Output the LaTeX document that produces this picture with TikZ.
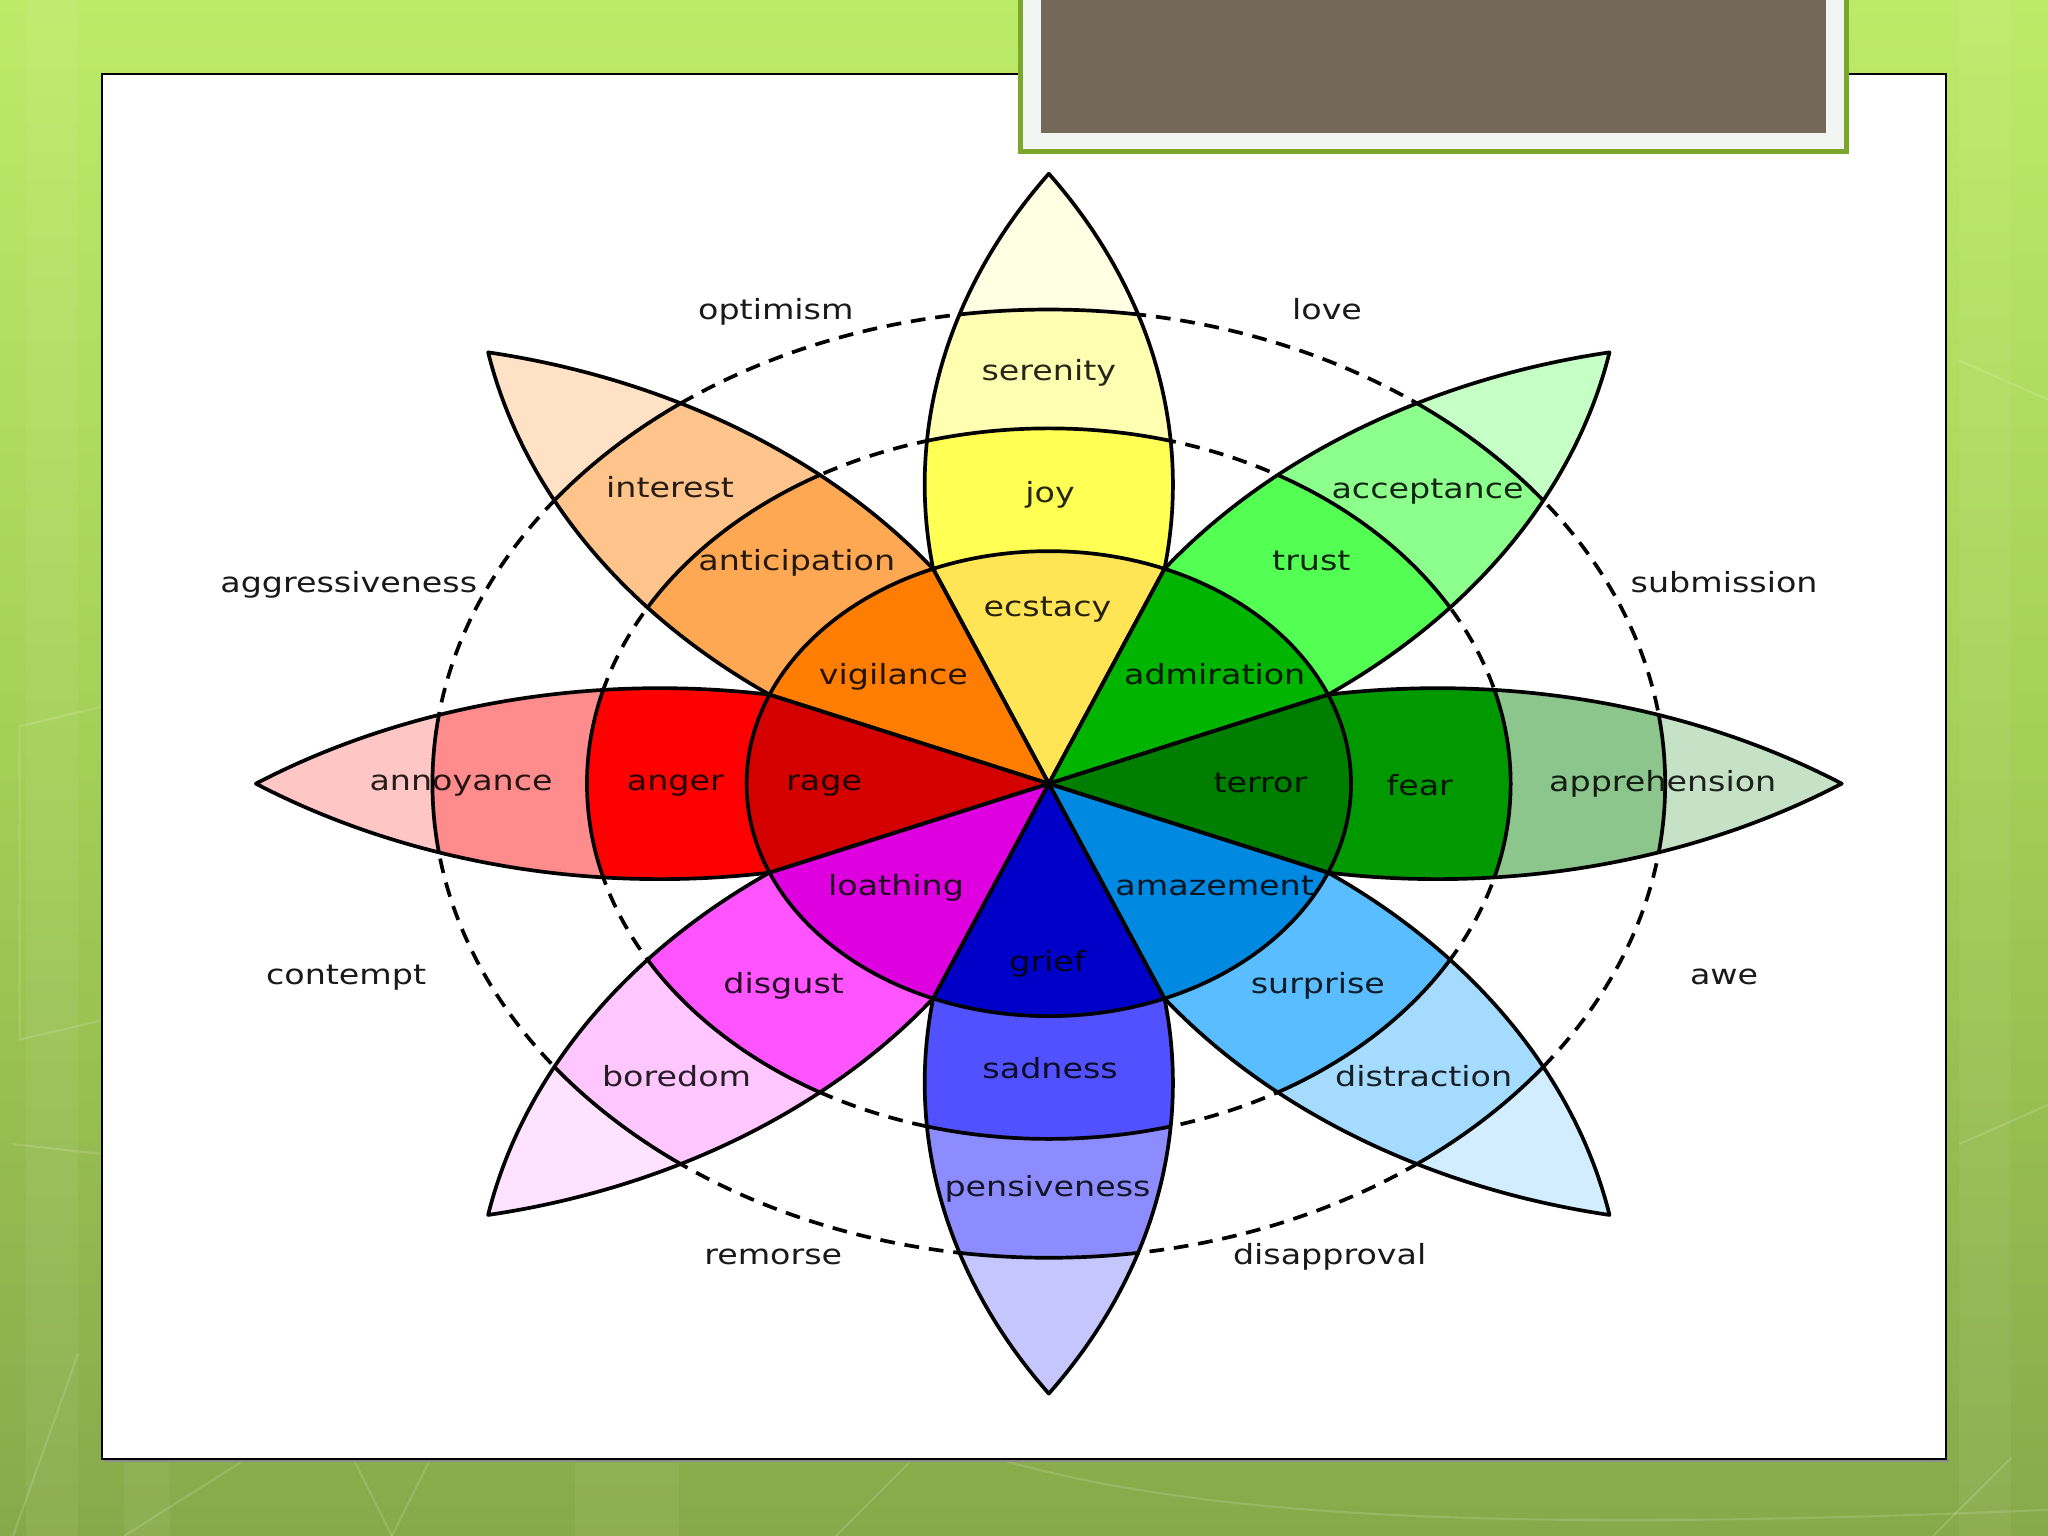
\documentclass[tikz,border=0pt]{standalone}
\usepackage{fontspec}
\newfontfamily\lblfont{DejaVu Sans}[FakeStretch=1.2]
\definecolor{bgtop}{HTML}{BCEB68}
\definecolor{bgmid}{HTML}{A2CF56}
\definecolor{bgbot}{HTML}{88A94A}
\definecolor{boxgreen}{HTML}{7BA82A}
\definecolor{boxin}{HTML}{F3F5F3}
\definecolor{taupe}{HTML}{736859}
% joy family
\definecolor{ecst}{HTML}{FFE455}
\definecolor{joyc}{HTML}{FFFF54}
\definecolor{sere}{HTML}{FFFFB1}
\definecolor{joyt}{HTML}{FFFFE3}
% trust family
\definecolor{admi}{HTML}{00B400}
\definecolor{trus}{HTML}{54FF54}
\definecolor{acce}{HTML}{8CFF8C}
\definecolor{trut}{HTML}{C6FFC6}
% fear family
\definecolor{terr}{HTML}{007E00}
\definecolor{fear}{HTML}{009900}
\definecolor{appr}{HTML}{8CC68C}
\definecolor{feat}{HTML}{C6E2C6}
% surprise family
\definecolor{amaz}{HTML}{0089E0}
\definecolor{surp}{HTML}{59BDFF}
\definecolor{dist}{HTML}{A5DBFF}
\definecolor{surt}{HTML}{D2EDFF}
% sadness family
\definecolor{grie}{HTML}{0000C8}
\definecolor{sadn}{HTML}{5151FF}
\definecolor{pens}{HTML}{8C8CFF}
\definecolor{sadt}{HTML}{C6C6FF}
% disgust family
\definecolor{loat}{HTML}{DE00DE}
\definecolor{disg}{HTML}{FF54FF}
\definecolor{bore}{HTML}{FFC6FF}
\definecolor{disx}{HTML}{FFE2FF}
% anger family
\definecolor{rage}{HTML}{D40000}
\definecolor{ange}{HTML}{FF0000}
\definecolor{anno}{HTML}{FF8C8C}
\definecolor{angt}{HTML}{FFC6C6}
% anticipation family
\definecolor{vigi}{HTML}{FF7D00}
\definecolor{anti}{HTML}{FFA854}
\definecolor{inte}{HTML}{FFC48C}
\definecolor{antt}{HTML}{FFE2C6}
\begin{document}
\begin{tikzpicture}[x=0.013061cm,y=0.013061cm,
  lab/.style={font=\lblfont\fontsize{7.9}{9}\selectfont, anchor=base, inner sep=0pt, text=black!90},
  plab/.style={lab, text=black, text opacity=0.85},
  edge/.style={draw=black, line width=1.05pt, line join=round},
  dashring/.style={draw=black, line width=1.05pt, dash pattern=on 4.2pt off 2.8pt},
  deco/.style={draw=white, draw opacity=0.14, line width=0.6pt}]
\useasboundingbox (0,0) rectangle (1568,1176);
% background
\shade[top color=bgtop, bottom color=bgbot, middle color=bgmid] (0,0) rectangle (1568,1176);
\fill[white, opacity=0.06] (20,0) rectangle (60,1176);
\fill[white, opacity=0.06] (95,0) rectangle (130,60);
\fill[white, opacity=0.06] (440,0) rectangle (520,60);
\fill[white, opacity=0.05] (1500,0) rectangle (1540,1176);
\draw[deco] (10,0) -- (60,140);
\draw[deco] (95,0) -- (190,60);
\draw[deco] (300,0) -- (270,60);
\draw[deco] (300,0) -- (330,60);
\draw[deco] (640,0) -- (700,60);
\draw[deco] (760,60) .. controls (900,20) and (1100,0) .. (1568,20);
\draw[deco] (1480,0) -- (1540,60);
\draw[deco] (15,620) -- (100,640) -- (100,400) -- (15,380) -- cycle;
\draw[deco] (10,300) -- (100,290);
\draw[deco] (1500,900) -- (1568,870);
\draw[deco] (1500,300) -- (1568,330);
% white panel
\fill[black!45] (80,56.5) rectangle (1492,59);
\draw[fill=white, line width=0.6pt] (78,59) rectangle (1490,1119);
% top box
\fill[boxin] (781.5,1060) rectangle (1413.5,1176);
\draw[boxgreen, line width=1.5pt] (781.5,1176) -- (781.5,1060) -- (1413.5,1060) -- (1413.5,1176);
\fill[taupe] (797,1074) rectangle (1398,1176);
% wheel
\begin{scope}[shift={(803,576)}, xscale=1.3]
  \draw[dashring] (0,0) circle (272);
  \draw[dashring] (0,0) circle (363);
  \foreach \ang/\ca/\cb/\cc/\cd in {0/ecst/joyc/sere/joyt, -45/admi/trus/acce/trut,
      -90/terr/fear/appr/feat, -135/amaz/surp/dist/surt, 180/grie/sadn/pens/sadt,
      135/loat/disg/bore/disx, 90/rage/ange/anno/angt, 45/vigi/anti/inte/antt} {
    \begin{scope}[rotate=\ang]
      \clip (0,0) -- (68.12,164.45) .. controls (84.5,270.2) and (60.1,378.4) .. (0,467)
        .. controls (-60.1,378.4) and (-84.5,270.2) .. (-68.12,164.45) -- cycle;
      \fill[\cd] (0,0) circle (480);
      \fill[\cc] (0,0) circle (363);
      \fill[\cb] (0,0) circle (272);
      \fill[\ca] (0,0) circle (178);
      \draw[edge] (0,0) circle (272) (0,0) circle (363);
    \end{scope}
  }
  \foreach \ang in {0,45,...,315} {
    \draw[edge, rotate=\ang] (0,0) -- (68.12,164.45) .. controls (84.5,270.2) and (60.1,378.4) .. (0,467)
        .. controls (-60.1,378.4) and (-84.5,270.2) .. (-68.12,164.45) -- cycle;
  }
  \draw[edge] (0,0) circle (178);
\end{scope}
% outer labels
\node[lab] (optimism) at (594,931) {optimism};
\node[lab] (love) at (1016,931) {love};
\node[lab] (aggressiveness) at (267,722) {aggressiveness};
\node[lab] (submission) at (1320,722) {submission};
\node[lab] (contempt) at (265,422) {contempt};
\node[lab] (awe) at (1320,422) {awe};
\node[lab] (remorse) at (592,208) {remorse};
\node[lab] (disapproval) at (1018,208) {disapproval};
% petal labels
\node[plab] (serenity) at (803,885) {serenity};
\node[plab] (joy) at (804,791) {joy};
\node[plab] (ecstacy) at (802,704) {ecstacy};
\node[plab] (interest) at (513,795) {interest};
\node[plab] (anticipation) at (610,739) {anticipation};
\node[plab] (vigilance) at (684,652) {vigilance};
\node[plab] (acceptance) at (1093,794) {acceptance};
\node[plab] (trust) at (1004,739) {trust};
\node[plab] (admiration) at (930,652) {admiration};
\node[plab] (annoyance) at (353,571) {annoyance};
\node[plab] (anger) at (517,571) {anger};
\node[plab] (ragel) at (631,571) {rage};
\node[plab] (apprehension) at (1273,570) {apprehension};
\node[plab] (fearl) at (1087,567) {fear};
\node[plab] (terror) at (965,569) {terror};
\node[plab] (loathing) at (686,490) {loathing};
\node[plab] (disgust) at (600,415) {disgust};
\node[plab] (boredom) at (518,344) {boredom};
\node[plab] (grief) at (802,432) {grief};
\node[plab] (sadness) at (804,350) {sadness};
\node[plab] (pensiveness) at (802,260) {pensiveness};
\node[plab] (amazement) at (930,490) {amazement};
\node[plab] (surprise) at (1009,415) {surprise};
\node[plab] (distraction) at (1090,344) {distraction};
\end{tikzpicture}
\end{document}
